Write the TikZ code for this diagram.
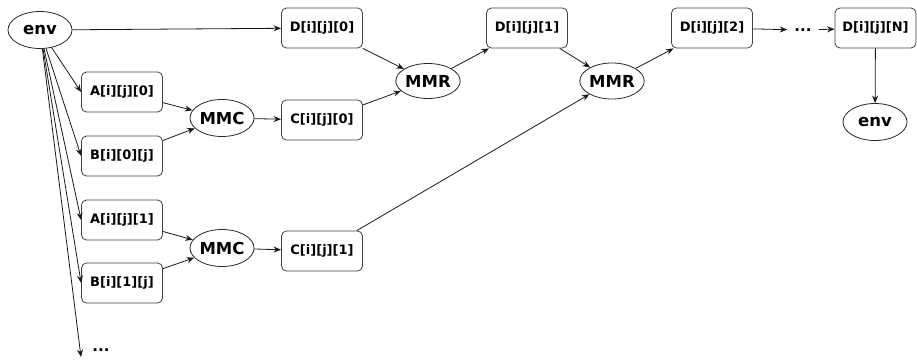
\documentclass[tikz,border=0pt]{standalone}
\usepackage{fontspec}
\setmainfont{DejaVu Sans}
\usetikzlibrary{shapes.geometric,arrows.meta}
\begin{document}
\begin{tikzpicture}[x=1pt,y=-1pt,
  arr/.style={line width=0.8pt,draw=black!90,-{Stealth[length=7.5pt,width=6pt]}},
  cell/.style={draw=black!75,line width=0.8pt,rounded corners=5pt,minimum width=81pt,minimum height=40pt,
    inner sep=0pt,font=\fontsize{13}{15}\selectfont\bfseries},
  op/.style={ellipse,draw=black!85,line width=0.8pt,minimum width=64pt,minimum height=37pt,inner sep=0pt,
    font=\fontsize{16.5}{18}\selectfont\bfseries},
  more/.style={inner xsep=7pt,inner ysep=1pt,font=\fontsize{15}{16}\selectfont\bfseries}]
\useasboundingbox (0,0) rectangle (917,360);

% sources and the first product chain
\node[op] (env) at (40,30) {env};
\node[cell] (d0) at (322,28) {D[i][j][0]};
\node[cell] (a0) at (122,92) {A[i][j][0]};
\node[cell] (b0) at (122,156) {B[i][0][j]};
\node[op] (mmc0) at (222,118) {MMC};
\node[cell] (c0) at (322,120) {C[i][j][0]};
\node[op,minimum width=58pt,minimum height=35pt] (mmr1) at (428,81) {MMR};
\node[cell] (d1) at (527,28) {D[i][j][1]};

% second product chain
\node[cell] (a1) at (122,220) {A[i][j][1]};
\node[cell] (b1) at (122,283) {B[i][1][j]};
\node[op] (mmc1) at (222,248) {MMC};
\node[cell] (c1) at (322,251) {C[i][j][1]};
\node[op,minimum width=62pt,minimum height=36pt] (mmr2) at (612,81) {MMR};
\node[cell] (d2) at (712,28) {D[i][j][2]};

% tail of the reduction
\node[more] (dots) at (803,30) {...};
\node[cell] (dn) at (875.5,28) {D[i][j][N]};
\node[op] (envout) at (875,122) {env};
\node[more,inner xsep=1pt] (dotsb) at (101,350) {...};
\coordinate (dotsend) at (81,357);

% connectors
\draw[arr] (env) -- (d0);
\draw[arr] (env) -- (a0.west);
\draw[arr] (env) -- (b0.west);
\draw[arr] (env) -- (a1.west);
\draw[arr] (env) -- (b1.west);
\draw[arr] (env) -- (dotsend);
\draw[arr] (a0) -- (mmc0);
\draw[arr] (b0) -- (mmc0);
\draw[arr] (mmc0) -- (c0);
\draw[arr] (d0) -- (mmr1);
\draw[arr] (c0) -- (mmr1);
\draw[arr] (mmr1) -- (d1);
\draw[arr] (a1) -- (mmc1);
\draw[arr] (b1) -- (mmc1);
\draw[arr] (mmc1) -- (c1);
\draw[arr] (d1) -- (mmr2);
\draw[arr] (c1) -- (mmr2);
\draw[arr] (mmr2) -- (d2);
\draw[arr] (d2) -- (dots);
\draw[arr] (dots) -- (dn);
\draw[arr] (dn) -- (envout);
\end{tikzpicture}
\end{document}
